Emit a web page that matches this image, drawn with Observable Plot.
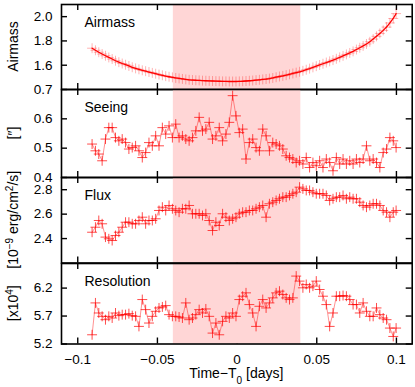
<!DOCTYPE html>
<html><head><meta charset="utf-8">
<script src="https://cdn.jsdelivr.net/npm/d3@7"></script>
<script src="https://cdn.jsdelivr.net/npm/@observablehq/plot@0.6"></script>
<style>
html,body{margin:0;padding:0;background:#fff;}
#chart{position:relative;width:415px;height:387px;font-family:"Liberation Sans",Arial,sans-serif;}
#chart svg{position:absolute;left:0;overflow:visible;background:transparent;}
</style></head><body><div id="chart"></div>
<script>
const time = [
-0.0910,-0.0889,-0.0868,-0.0847,-0.0826,-0.0805,-0.0784,-0.0763,-0.0742,-0.0721,
-0.0700,-0.0679,-0.0658,-0.0637,-0.0616,-0.0595,-0.0574,-0.0553,-0.0532,-0.0511,
-0.0490,-0.0469,-0.0448,-0.0427,-0.0406,-0.0385,-0.0364,-0.0343,-0.0322,-0.0301,
-0.0280,-0.0259,-0.0238,-0.0217,-0.0196,-0.0175,-0.0154,-0.0133,-0.0112,-0.0091,
-0.0070,-0.0049,-0.0028,-0.0007,0.0014,0.0035,0.0056,0.0077,0.0098,0.0119,
0.0140,0.0161,0.0182,0.0203,0.0224,0.0245,0.0266,0.0287,0.0308,0.0329,
0.0350,0.0371,0.0392,0.0413,0.0434,0.0455,0.0476,0.0497,0.0518,0.0539,
0.0560,0.0581,0.0602,0.0623,0.0644,0.0665,0.0686,0.0707,0.0728,0.0749,
0.0770,0.0791,0.0812,0.0833,0.0854,0.0875,0.0896,0.0917,0.0938,0.0959,
0.0980,0.0998];
const airmass = [
1.740,1.723,1.707,1.692,1.678,1.664,1.651,1.637,1.625,1.614,
1.604,1.594,1.583,1.574,1.566,1.558,1.551,1.544,1.537,1.530,
1.523,1.517,1.510,1.505,1.500,1.495,1.491,1.487,1.483,1.480,
1.478,1.476,1.475,1.473,1.472,1.471,1.470,1.469,1.468,1.467,
1.467,1.466,1.466,1.466,1.467,1.468,1.470,1.472,1.474,1.477,
1.480,1.483,1.486,1.490,1.495,1.501,1.507,1.512,1.518,1.525,
1.532,1.539,1.546,1.554,1.563,1.572,1.582,1.592,1.602,1.612,
1.622,1.632,1.642,1.653,1.665,1.677,1.689,1.701,1.714,1.729,
1.744,1.759,1.775,1.793,1.815,1.838,1.862,1.887,1.914,1.948,
1.985,2.025];
const seeing = [
0.514,0.491,0.480,0.457,0.531,0.570,0.570,0.536,0.525,0.531,
0.519,0.497,0.502,0.508,0.491,0.468,0.485,0.519,0.508,0.542,
0.508,0.570,0.548,0.576,0.536,0.582,0.536,0.542,0.531,0.525,
0.536,0.559,0.605,0.559,0.565,0.588,0.531,0.542,0.570,0.525,
0.548,0.588,0.679,0.610,0.553,0.565,0.463,0.519,0.531,0.502,
0.491,0.565,0.542,0.491,0.519,0.514,0.508,0.497,0.474,0.468,
0.463,0.451,0.457,0.446,0.468,0.434,0.451,0.440,0.457,0.434,
0.463,0.451,0.423,0.468,0.446,0.463,0.446,0.457,0.446,0.463,
0.451,0.463,0.508,0.457,0.463,0.451,0.434,0.485,0.497,0.536,
0.525,0.502];
const flux = [
2.452,2.493,2.548,2.521,2.412,2.398,2.384,2.425,2.452,2.493,
2.534,2.534,2.521,2.521,2.548,2.575,2.521,2.548,2.548,2.562,
2.630,2.657,2.630,2.671,2.644,2.630,2.616,2.644,2.644,2.671,
2.603,2.603,2.603,2.589,2.603,2.548,2.466,2.534,2.507,2.603,
2.575,2.548,2.562,2.575,2.603,2.616,2.616,2.630,2.630,2.644,
2.657,2.671,2.575,2.685,2.698,2.712,2.726,2.739,2.739,2.753,
2.767,2.780,2.821,2.807,2.794,2.794,2.780,2.767,2.767,2.767,
2.753,2.712,2.726,2.739,2.739,2.753,2.726,2.739,2.726,2.726,
2.698,2.671,2.657,2.671,2.685,2.685,2.671,2.630,2.616,2.575,
2.616,2.630];
const resolution = [
5.365,5.935,5.755,5.695,5.635,5.695,5.665,5.755,5.707,5.725,
5.725,5.743,5.707,5.695,5.515,5.995,5.815,5.575,5.695,5.785,
5.845,5.863,5.887,5.725,5.695,5.695,5.683,5.665,5.935,5.635,
5.665,5.725,5.815,5.755,5.827,5.695,5.395,5.575,5.365,5.605,
5.695,5.665,5.755,5.695,5.995,6.055,6.115,5.905,5.755,5.515,
5.875,5.995,5.845,5.935,6.025,6.115,6.145,6.085,6.025,5.995,
6.025,6.415,6.325,6.205,6.265,6.205,6.235,6.325,6.175,6.055,
5.905,5.515,5.755,6.055,6.055,6.067,6.055,5.995,5.905,5.905,
5.755,5.935,5.785,5.695,5.695,5.845,5.725,5.665,5.635,5.485,
5.335,5.485];
const xTicks = [-0.1, -0.05, 0, 0.05, 0.1];
const airmassTicks = [1.6, 1.8, 2.0];
const seeingTicks = [0.4, 0.5, 0.6, 0.7];
const fluxTicks = [2.4, 2.6, 2.8];
const resolutionTicks = [5.2, 5.7, 6.2];
const band = [{start: -0.04, end: 0.04}];

const FONT = '"Liberation Sans", Arial, Helvetica, sans-serif';
const W = 415, L = 61, R = 411.7;
const panels = [
  {name: "Airmass", values: airmass, domain: [1.4, 2.1], ticks: airmassTicks, top: 4, bottom: 89, smooth: true,
   title: [{t: "Airmass"}]},
  {name: "Seeing", values: seeing, domain: [0.4, 0.7], ticks: seeingTicks, top: 89, bottom: 177,
   title: [{t: "[\u2033]"}]},
  {name: "Flux", values: flux, domain: [2.2, 2.9], ticks: fluxTicks, top: 177, bottom: 262.5,
   title: [{t: "[10"}, {t: "\u22129", sup: true}, {t: " erg/cm"}, {t: "2", sup: true}, {t: "/s]"}]},
  {name: "Resolution", values: resolution, domain: [5.2, 6.64], ticks: resolutionTicks, top: 262.5, bottom: 343,
   title: [{t: "[x10"}, {t: "4", sup: true}, {t: "]"}]}
];
const fmtX = d => d === 0 ? "0" : (d < 0 ? "\u2212" : "") + String(Math.abs(d));
const chart = document.getElementById("chart");

panels.forEach((p, idx) => {
  const last = idx === panels.length - 1;
  const mt = 14, mb = last ? 44 : 14;
  const ph = p.bottom - p.top;
  const pw = R - L;
  const data = time.map((t, i) => ({t, v: p.values[i]}));
  const tickStyle = {stroke: "black", strokeWidth: 1.4};
  const marks = [
    Plot.tickX(xTicks, {x: d => d, insetBottom: ph - 6, ...tickStyle}),
    Plot.tickX(xTicks, {x: d => d, insetTop: ph - 6, ...tickStyle}),
    Plot.tickY(p.ticks, {y: d => d, insetRight: pw - 6, ...tickStyle}),
    Plot.tickY(p.ticks, {y: d => d, insetLeft: pw - 6, ...tickStyle}),
    Plot.rect(band, {x1: "start", x2: "end", fill: "#ffd6d6"}),
    p.smooth
      ? Plot.dot(data, {x: "t", y: "v", symbol: "plus", r: 3.3, stroke: "#ff0000", strokeOpacity: 0.3, strokeWidth: 1})
      : Plot.line(data, {x: "t", y: "v", stroke: "#ff2020", strokeOpacity: 0.55, strokeWidth: 0.9}),
    p.smooth
      ? Plot.line(data, {x: "t", y: "v", stroke: "#ff0000", strokeWidth: 1.3})
      : Plot.dot(data, {x: "t", y: "v", symbol: "plus", r: 3.3, stroke: "#ff0000", strokeOpacity: 0.7, strokeWidth: 1}),
    Plot.frame({stroke: "black", strokeWidth: 1.6}),
    Plot.axisY(p.ticks, {anchor: "left", tickSize: 0, tickPadding: 9, label: null, fontSize: 13.5,
      tickFormat: d => d.toFixed(1)}),
    Plot.text([p.name], {frameAnchor: "top-left", dx: 23, dy: 12.5, lineAnchor: "top", fontSize: 14, text: d => d, fill: "black"})
  ];
  if (last) {
    marks.push(Plot.axisX(xTicks, {anchor: "bottom", tickSize: 0, tickPadding: 10, label: null, fontSize: 13.5, tickFormat: fmtX}));
  }
  const svg = Plot.plot({
    width: W, height: mt + ph + mb,
    marginLeft: L, marginRight: W - R, marginTop: mt, marginBottom: mb,
    style: {fontFamily: FONT, fontSize: "13.5px", background: "transparent", overflow: "visible", color: "black"},
    x: {domain: [-0.1102, 0.1099], axis: null},
    y: {domain: p.domain, axis: null},
    marks
  });
  svg.style.top = (p.top - mt) + "px";
  const s = d3.select(svg);
  const tt = s.append("text")
    .attr("transform", `translate(13,${mt + ph / 2}) rotate(-90)`)
    .attr("text-anchor", "middle").attr("dy", "0.35em")
    .attr("font-size", 14).attr("font-family", FONT).attr("fill", "black");
  p.title.forEach(seg => {
    const ts = tt.append("tspan").text(seg.t);
    if (seg.sup) ts.attr("baseline-shift", "super").attr("font-size", 10);
  });
  if (last) {
    const xt = s.append("text")
      .attr("x", (L + R) / 2).attr("y", mt + ph + 34.5)
      .attr("text-anchor", "middle").attr("font-size", 14).attr("font-family", FONT).attr("fill", "black");
    xt.append("tspan").text("Time\u2212T");
    xt.append("tspan").attr("baseline-shift", "sub").attr("font-size", 10).text("0");
    xt.append("tspan").text(" [days]");
  }
  chart.appendChild(svg);
});
</script></body></html>
